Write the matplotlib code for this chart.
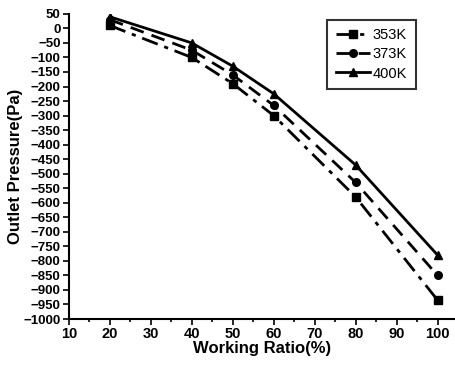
import numpy as np
import matplotlib
matplotlib.use('Agg')
import matplotlib.pyplot as plt
from matplotlib.ticker import MultipleLocator

plt.rcParams['font.family'] = ['Liberation Sans', 'DejaVu Sans']

# data
ratio = [20, 40, 50, 60, 80, 100]
p353 = [10, -100, -190, -300, -580, -935]
p373 = [30, -75, -160, -265, -530, -850]
p400 = [40, -50, -130, -225, -470, -780]

fig = plt.figure(figsize=(4.56, 3.65), dpi=100)
ax = fig.add_axes([0.151, 0.126, 0.849, 0.836])

ax.plot(ratio, p353, color='black', lw=2, ls=(0, (6, 2.5, 1.5, 2.5)), marker='s', ms=5.5, label='353K')
ax.plot(ratio, p373, color='black', lw=2, ls=(0, (5, 3)), marker='o', ms=5.5, label='373K')
ax.plot(ratio, p400, color='black', lw=2, ls='-', marker='^', ms=5.5, label='400K')

ax.set_xlim(10, 104.5)
ax.set_ylim(-1000, 50)
ax.xaxis.set_major_locator(MultipleLocator(10))
ax.xaxis.set_minor_locator(MultipleLocator(5))
ax.yaxis.set_major_locator(MultipleLocator(50))
ax.spines['top'].set_visible(False)
ax.spines['right'].set_visible(False)
ax.spines['left'].set_linewidth(1.5)
ax.spines['bottom'].set_linewidth(1.5)
ax.tick_params(axis='both', which='major', direction='out', length=4, width=1.2, labelsize=9.5, pad=2)
ax.tick_params(axis='x', which='major', labelsize=10.5)
ax.tick_params(axis='both', which='minor', direction='out', length=2.5, width=1.2)
for lab in ax.get_xticklabels() + ax.get_yticklabels():
    lab.set_fontweight('bold')

ax.set_xlabel('Working Ratio(%)', fontsize=12, fontweight='bold', labelpad=0)
ax.set_ylabel('Outlet Pressure(Pa)', fontsize=12, fontweight='bold', labelpad=0)

leg = ax.legend(loc='upper right', bbox_to_anchor=(0.915, 1.005), fontsize=10.5, frameon=True, fancybox=False,
                edgecolor='black', handlelength=2.3, handletextpad=0.2, borderpad=0.6, labelspacing=0.35)
leg.get_frame().set_linewidth(1.5)

fig.savefig('out.png', dpi=100)
